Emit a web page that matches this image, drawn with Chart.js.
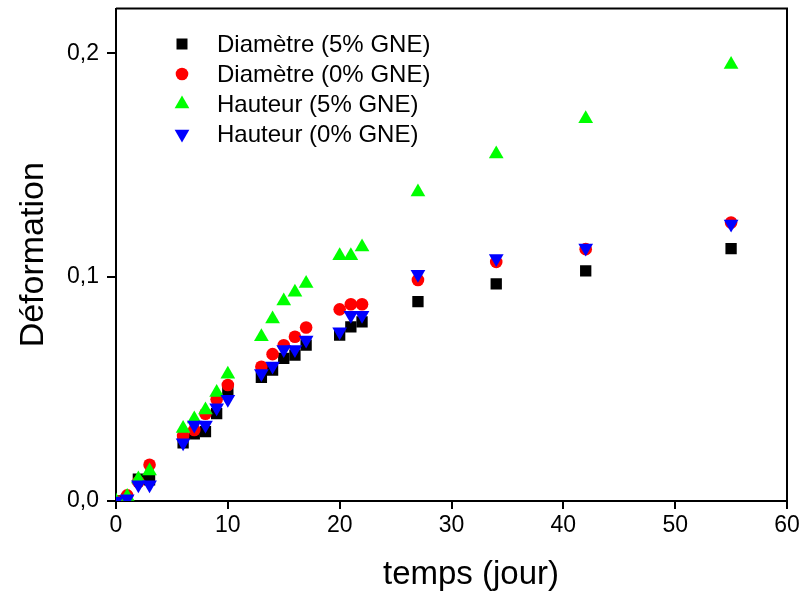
<!DOCTYPE html>
<html>
<head>
<meta charset="utf-8">
<script src="https://cdn.jsdelivr.net/npm/chart.js@4/dist/chart.umd.min.js"></script>
<style>
  html, body { margin: 0; padding: 0; background: #ffffff; }
  #wrap { width: 800px; height: 593px; }
</style>
</head>
<body>
<div id="wrap"><canvas id="c" width="800" height="593"></canvas></div>
<script>
// ---- data ----
const days = [0, 1, 2, 3, 6, 7, 8, 9, 10, 13, 14, 15, 16, 17, 20, 21, 22, 27, 34, 42, 55];
const diam5 = [0, 0.001, 0.0098, 0.0095, 0.026, 0.030, 0.031, 0.039, 0.0488, 0.0552, 0.0585, 0.0637, 0.0652, 0.0696, 0.0741, 0.0778, 0.080, 0.0891, 0.097, 0.1028, 0.1127];
const diam0 = [0, 0.0025, 0.0085, 0.0162, 0.029, 0.0317, 0.039, 0.0454, 0.0518, 0.060, 0.0656, 0.0696, 0.0734, 0.0775, 0.0856, 0.0879, 0.0879, 0.0987, 0.1068, 0.1125, 0.1244];
const haut5 = [0, 0.002, 0.0098, 0.0134, 0.0324, 0.0366, 0.0406, 0.0485, 0.0566, 0.0734, 0.0813, 0.0893, 0.0932, 0.0972, 0.1095, 0.1095, 0.1135, 0.138, 0.155, 0.1708, 0.195];
const haut0 = [0, 0.001, 0.0073, 0.0073, 0.026, 0.034, 0.034, 0.0417, 0.0454, 0.057, 0.0603, 0.0677, 0.0677, 0.0719, 0.0756, 0.083, 0.083, 0.1013, 0.1083, 0.113, 0.1237];
const seriesNames = ['Diamètre (5% GNE)', 'Diamètre (0% GNE)', 'Hauteur (5% GNE)', 'Hauteur (0% GNE)'];
const xTicks = [0, 10, 20, 30, 40, 50, 60];
const yTicks = [0, 0.1, 0.2];
const xTitle = 'temps (jour)';
const yTitle = 'Déformation';

const pts = (vals) => days.map((d, i) => ({ x: d, y: vals[i] }));

const FONT = "'Liberation Sans', Arial, sans-serif";

const styles = [
  { color: '#000000', pointStyle: 'rect', radius: 8, rotation: 0, order: 3 },
  { color: '#ff0000', pointStyle: 'circle', radius: 6.3, rotation: 0, order: 2 },
  { color: '#00ff00', pointStyle: 'triangle', radius: 8.5, rotation: 0, order: 1 },
  { color: '#0000ff', pointStyle: 'triangle', radius: 8.5, rotation: 180, order: 0 }
];
const seriesVals = [diam5, diam0, haut5, haut0];

const datasets = seriesVals.map((v, i) => ({
  label: seriesNames[i],
  data: pts(v),
  showLine: false,
  pointStyle: styles[i].pointStyle,
  pointRadius: styles[i].radius,
  pointHoverRadius: styles[i].radius,
  pointRotation: styles[i].rotation,
  pointBackgroundColor: styles[i].color,
  pointBorderColor: styles[i].color,
  pointBorderWidth: 0,
  backgroundColor: styles[i].color,
  borderColor: styles[i].color,
  order: styles[i].order
}));

// frame (top and right), x title (offset as in reference) + inside legend
const framePlugin = {
  id: 'frameLegend',
  afterDraw(chart) {
    const { ctx, chartArea: a } = chart;
    ctx.save();
    ctx.strokeStyle = '#000';
    ctx.lineWidth = 2;
    ctx.beginPath();
    ctx.moveTo(a.left, a.top);
    ctx.lineTo(a.right, a.top);
    ctx.lineTo(a.right, a.bottom);
    ctx.stroke();

    // x axis title
    ctx.fillStyle = '#000';
    ctx.font = '33px ' + FONT;
    ctx.textAlign = 'center';
    ctx.textBaseline = 'middle';
    ctx.fillText(xTitle, 471, 575);

    // legend
    const mx = 182, tx = 217, y0 = 44, dy = 30;
    ctx.font = '24px ' + FONT;
    ctx.textBaseline = 'middle';
    ctx.textAlign = 'left';
    chart.data.datasets.forEach((ds, i) => {
      const y = y0 + i * dy;
      const s = styles[i];
      ctx.fillStyle = s.color;
      ctx.beginPath();
      if (s.pointStyle === 'rect') {
        ctx.rect(mx - 5.5, y - 5.5, 11, 11);
      } else if (s.pointStyle === 'circle') {
        ctx.arc(mx, y, 6.3, 0, Math.PI * 2);
      } else if (s.rotation === 0) {
        const r = 8.5;
        ctx.moveTo(mx, y - r);
        ctx.lineTo(mx + r * Math.sqrt(3) / 2, y + r / 2);
        ctx.lineTo(mx - r * Math.sqrt(3) / 2, y + r / 2);
        ctx.closePath();
      } else {
        const r = 8.5;
        ctx.moveTo(mx, y + r);
        ctx.lineTo(mx + r * Math.sqrt(3) / 2, y - r / 2);
        ctx.lineTo(mx - r * Math.sqrt(3) / 2, y - r / 2);
        ctx.closePath();
      }
      ctx.fill();
      ctx.fillStyle = '#000';
      ctx.fillText(ds.label, tx, y + 1);
    });
    ctx.restore();
  }
};

new Chart(document.getElementById('c'), {
  type: 'scatter',
  data: { datasets },
  options: {
    responsive: false,
    animation: false,
    devicePixelRatio: 1,
    layout: { padding: { left: 0, right: 13, top: 8, bottom: 0 } },
    plugins: {
      legend: { display: false },
      tooltip: { enabled: false },
      title: { display: false }
    },
    scales: {
      x: {
        type: 'linear',
        min: 0,
        max: 60,
        afterBuildTicks: (s) => { s.ticks = xTicks.map(v => ({ value: v })); },
        afterFit: (s) => { s.height = 92; s.paddingLeft = 0; s.paddingRight = 0; },
        grid: { display: true, drawOnChartArea: false, drawTicks: true, tickLength: 8, color: '#000', lineWidth: 2 },
        border: { display: true, color: '#000', width: 2 },
        ticks: {
          color: '#000',
          font: { family: FONT, size: 23 },
          padding: 3,
          maxRotation: 0,
          callback: (v) => String(v)
        },
        title: { display: false, text: xTitle }
      },
      y: {
        type: 'linear',
        min: 0,
        max: 0.22,
        afterBuildTicks: (s) => { s.ticks = yTicks.map(v => ({ value: v })); },
        afterFit: (s) => { s.width = 116; s.paddingTop = 0; s.paddingBottom = 0; },
        grid: { display: true, drawOnChartArea: false, drawTicks: true, tickLength: 9, color: '#000', lineWidth: 2 },
        border: { display: true, color: '#000', width: 2 },
        ticks: {
          color: '#000',
          font: { family: FONT, size: 23 },
          padding: 8,
          callback: (v) => v.toFixed(1).replace('.', ',')
        },
        title: {
          display: true,
          text: yTitle,
          color: '#000',
          font: { family: FONT, size: 34, lineHeight: 1 },
          padding: { top: 17, bottom: 0 }
        }
      }
    }
  },
  plugins: [framePlugin]
});
</script>
</body>
</html>
